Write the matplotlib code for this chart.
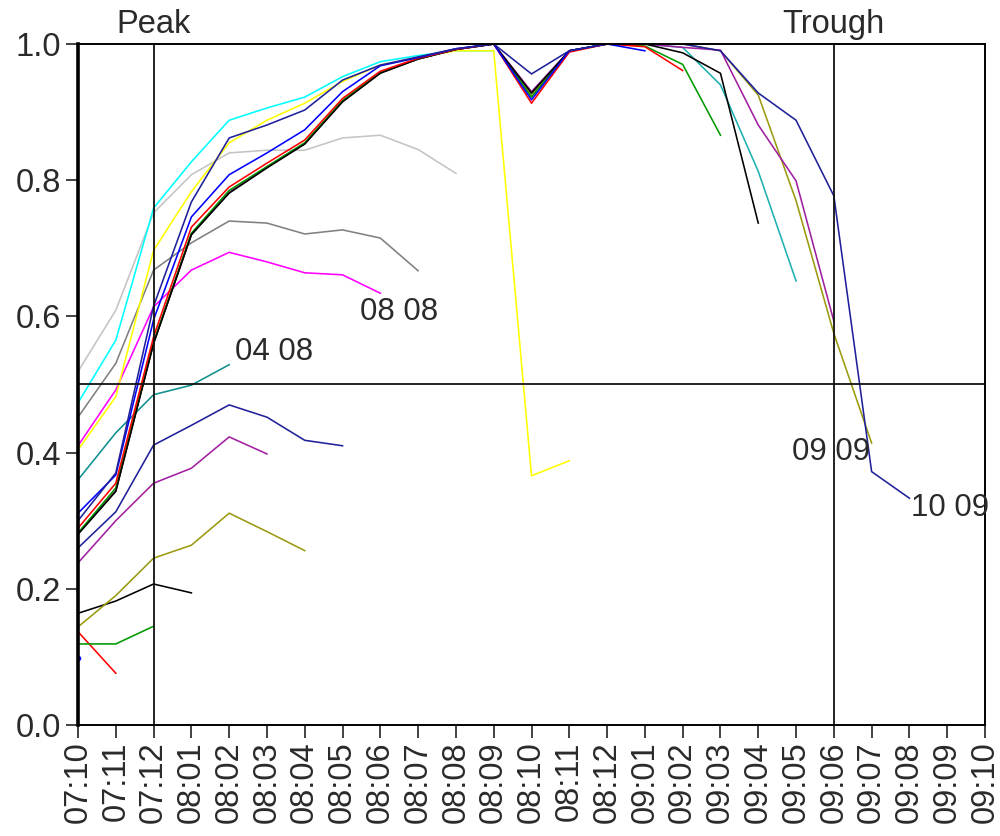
import matplotlib
matplotlib.use('Agg')
from matplotlib import pyplot as plt
import numpy as np

plt.rcParams['font.family'] = ['Liberation Sans', 'DejaVu Sans']

months = ['07:10', '07:11', '07:12',
          '08:01', '08:02', '08:03', '08:04', '08:05', '08:06',
          '08:07', '08:08', '08:09', '08:10', '08:11', '08:12',
          '09:01', '09:02', '09:03', '09:04', '09:05', '09:06',
          '09:07', '09:08', '09:09', '09:10']

# every series starts at 07:10 and runs as long as its list
blue_a = [0.098]
red_a = [0.137, 0.076]
green_a = [0.119, 0.119, 0.145]
black_a = [0.164, 0.182, 0.207, 0.194]
teal_a = [0.360, 0.429, 0.485, 0.499, 0.529]
purple_a = [0.238, 0.300, 0.355, 0.377, 0.423, 0.398]
olive_a = [0.144, 0.190, 0.245, 0.264, 0.311, 0.284, 0.256]
navy_a = [0.260, 0.313, 0.411, 0.440, 0.470, 0.452, 0.418, 0.410]
magenta = [0.410, 0.492, 0.614, 0.668, 0.694, 0.680, 0.664, 0.661, 0.634]
dgray = [0.452, 0.531, 0.668, 0.708, 0.740, 0.737, 0.721, 0.727, 0.715, 0.667]
lgray = [0.519, 0.609, 0.752, 0.808, 0.840, 0.844, 0.844, 0.862, 0.866, 0.845, 0.810]
cyan = [0.473, 0.565, 0.759, 0.827, 0.888, 0.906, 0.922, 0.952, 0.974, 0.983, 0.990, 0.990]
yellow = [0.404, 0.482, 0.697, 0.783, 0.855, 0.888, 0.913, 0.945, 0.969, 0.980, 0.990, 0.990,
          0.366, 0.388]

teal_b = [0.281, 0.344, 0.561, 0.720, 0.782, 0.819, 0.854, 0.916, 0.958, 0.978, 0.992, 1.0,
          0.925, 0.990, 1.0, 1.0, 0.995, 0.940, 0.813, 0.652]
olive_b = [0.281, 0.344, 0.561, 0.720, 0.782, 0.819, 0.854, 0.916, 0.958, 0.978, 0.992, 1.0,
           0.925, 0.990, 1.0, 1.0, 1.0, 0.990, 0.925, 0.770, 0.575, 0.414]
purple_b = [0.281, 0.344, 0.561, 0.720, 0.782, 0.819, 0.854, 0.916, 0.958, 0.978, 0.992, 1.0,
            0.930, 0.990, 1.0, 1.0, 0.995, 0.991, 0.881, 0.799, 0.593]
green_b = [0.282, 0.348, 0.562, 0.722, 0.785, 0.820, 0.855, 0.917, 0.958, 0.978, 0.992, 1.0,
           0.922, 0.990, 1.0, 0.997, 0.970, 0.866]
black_b = [0.280, 0.343, 0.560, 0.720, 0.781, 0.818, 0.853, 0.915, 0.957, 0.978, 0.992, 1.0,
           0.928, 0.990, 1.0, 1.0, 0.987, 0.957, 0.737]
red_b = [0.289, 0.355, 0.570, 0.731, 0.790, 0.825, 0.859, 0.920, 0.960, 0.979, 0.992, 1.0,
         0.913, 0.988, 1.0, 0.996, 0.961]
blue_b = [0.311, 0.367, 0.595, 0.746, 0.808, 0.840, 0.874, 0.930, 0.968, 0.980, 0.993, 1.0,
          0.918, 0.990, 1.0, 0.990]
navy_b = [0.300, 0.370, 0.615, 0.768, 0.862, 0.881, 0.903, 0.947, 0.969, 0.981, 0.993, 1.0,
          0.956, 0.990, 1.0, 1.0, 1.0, 0.990, 0.928, 0.888, 0.777, 0.372, 0.333]

series = [
    (red_a, '#FF0000'), (green_a, '#009900'), (black_a, '#000000'),
    (teal_a, '#108F8F'), (purple_a, '#A020A0'), (olive_a, '#9A9A10'),
    (navy_a, '#20209A'), (magenta, '#FF00FF'), (dgray, '#808080'),
    (lgray, '#C4C4C4'), (cyan, '#00FFFF'), (yellow, '#FFFF00'),
    (teal_b, '#20B0B0'), (olive_b, '#9A9A10'), (purple_b, '#A020A0'),
    (green_b, '#009900'), (black_b, '#000000'), (red_b, '#FF0000'),
    (blue_b, '#0000FF'), (navy_b, '#20209A'),
]

fig = plt.figure(figsize=(10, 8.36), dpi=100)
ax = fig.add_axes([0.078, 0.1328, 0.907, 0.8146])

for vals, col in series:
    ax.plot(np.arange(len(vals)), vals, color=col, lw=1.15)
ax.plot([0], blue_a, 'o', color='#0000FF', ms=3)

peak = months.index('07:12')
trough = months.index('09:06')
ax.axvline(peak, color='#111111', lw=1.3)
ax.axvline(trough, color='#111111', lw=1.3)
ax.axhline(0.5, color='#111111', lw=1.3)

fs = 23.5
txt = '#2a2a2a'
ax.text(peak, 1.006, 'Peak', ha='center', va='bottom', fontsize=fs, color=txt)
ax.text(trough, 1.006, 'Trough', ha='center', va='bottom', fontsize=fs, color=txt)

ax.text(4.15, 0.548, '04 08', ha='left', va='center', fontsize=22.5, color=txt)
ax.text(7.45, 0.606, '08 08', ha='left', va='center', fontsize=22.5, color=txt)
ax.text(20.95, 0.401, '09 09', ha='right', va='center', fontsize=22.5, color=txt)
ax.text(22.05, 0.319, '10 09', ha='left', va='center', fontsize=22.5, color=txt)

ax.set_xlim(0, len(months) - 1)
ax.set_ylim(0, 1.0)
ax.set_xticks(np.arange(len(months)))
ax.set_xticklabels(months, rotation=90, fontsize=fs, color=txt)
ax.set_yticks([0.0, 0.2, 0.4, 0.6, 0.8, 1.0])
ax.set_yticklabels(['0.0', '0.2', '0.4', '0.6', '0.8', '1.0'], fontsize=fs, color=txt)
ax.tick_params(axis='both', length=9, width=1.2, pad=3, color='#222222')

for side in ['top', 'right', 'bottom']:
    ax.spines[side].set_linewidth(1.4)
ax.spines['left'].set_linewidth(2.6)

fig.savefig('out.png', dpi=100)
